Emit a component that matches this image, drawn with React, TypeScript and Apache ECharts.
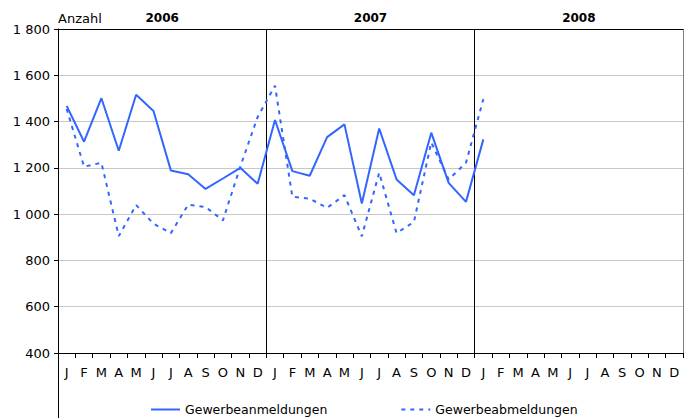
import React, { useEffect, useRef } from "react";
import * as echarts from "echarts";

const years = ["2006", "2007", "2008"];
const monthLetters = ["J", "F", "M", "A", "M", "J", "J", "A", "S", "O", "N", "D"];
const months = [...monthLetters, ...monthLetters, ...monthLetters];

const anmeldungen = [
  1468, 1313, 1501, 1274, 1516, 1446, 1189, 1172, 1109, 1154, 1200, 1131,
  1407, 1186, 1166, 1333, 1388, 1046, 1370, 1150, 1082, 1352, 1135, 1053,
  1323,
];
const abmeldungen = [
  1455, 1205, 1222, 905, 1039, 959, 918, 1041, 1031, 973, 1205, 1420,
  1555, 1075, 1067, 1027, 1082, 904, 1179, 918, 966, 1310, 1150, 1222,
  1497,
];

const seriesNames = ["Gewerbeanmeldungen", "Gewerbeabmeldungen"];
const yTicks = { min: 400, max: 1800, interval: 200 };

const pad = (arr: number[]) => {
  const out: (number | null)[] = [...arr];
  while (out.length < months.length) out.push(null);
  return out;
};

const fmt = (v: number) =>
  v >= 1000 ? `${Math.floor(v / 1000)} ${String(v % 1000).padStart(3, "0")}` : String(v);

const FONT = "DejaVu Sans";
const BLUE = "#3366ff";

export default function App() {
  const ref = useRef<HTMLDivElement>(null);
  useEffect(() => {
    if (!ref.current) return;
    const chart = echarts.init(ref.current, undefined, { renderer: "svg" });
    chart.setOption({
      animation: false,
      backgroundColor: "#ffffff",
      textStyle: { fontFamily: FONT, color: "#000" },
      grid: { left: 58, right: 9, top: 29, bottom: 65, containLabel: false },
      graphic: [
        {
          type: "text",
          left: 58,
          top: 12,
          style: { text: "Anzahl", font: `13px "${FONT}"`, fill: "#000" },
        },
        {
          type: "line",
          shape: { x1: 58.5, y1: 353, x2: 58.5, y2: 418 },
          style: { stroke: "#000", lineWidth: 1 },
        },
      ],
      legend: {
        left: 145,
        top: 398,
        itemWidth: 29,
        itemHeight: 14,
        itemGap: 73,
        itemStyle: { opacity: 0 },
        textStyle: { fontFamily: FONT, fontSize: 12.5, color: "#000" },
        data: seriesNames,
      },
      xAxis: [
        {
          type: "category",
          data: months,
          position: "bottom",
          boundaryGap: true,
          axisLine: { show: true, lineStyle: { color: "#000", width: 1 } },
          axisTick: { show: true, interval: 0, length: 5, lineStyle: { color: "#000" } },
          axisLabel: { interval: 0, margin: 13, fontSize: 13, fontFamily: FONT, color: "#000" },
          splitLine: { show: false },
        },
        {
          type: "category",
          data: years,
          position: "top",
          boundaryGap: true,
          axisLine: { show: true, lineStyle: { color: "#000", width: 1 } },
          axisTick: { show: false },
          axisLabel: {
            interval: 0,
            margin: 5,
            fontSize: 12,
            fontWeight: "bold",
            fontFamily: FONT,
            color: "#000",
          },
          splitLine: {
            show: true,
            interval: 0,
            lineStyle: { color: ["#000", "#000", "#000", "#808080"], width: 1 },
          },
        },
      ],
      yAxis: {
        type: "value",
        min: yTicks.min,
        max: yTicks.max,
        interval: yTicks.interval,
        axisLine: { show: true, lineStyle: { color: "#000", width: 1 } },
        axisTick: { show: true, length: 4, lineStyle: { color: "#000" } },
        axisLabel: {
          margin: 8,
          fontSize: 13,
          fontFamily: FONT,
          color: "#000",
          formatter: (v: number) => fmt(v),
        },
        splitLine: { show: true, lineStyle: { color: "#c8c8c8", width: 1 } },
      },
      series: [
        {
          name: seriesNames[0],
          type: "line",
          xAxisIndex: 0,
          data: pad(anmeldungen),
          symbol: "none",
          connectNulls: false,
          lineStyle: { color: BLUE, width: 2, type: "solid" },
          itemStyle: { color: BLUE },
          z: 3,
        },
        {
          name: seriesNames[1],
          type: "line",
          xAxisIndex: 0,
          data: pad(abmeldungen),
          symbol: "none",
          connectNulls: false,
          lineStyle: { color: BLUE, width: 2, type: [4, 5] },
          itemStyle: { color: BLUE },
          z: 3,
        },
      ],
    });
    return () => chart.dispose();
  }, []);
  return <div ref={ref} style={{ width: 692, height: 418, position: "absolute", left: 0, top: 0 }} />;
}
